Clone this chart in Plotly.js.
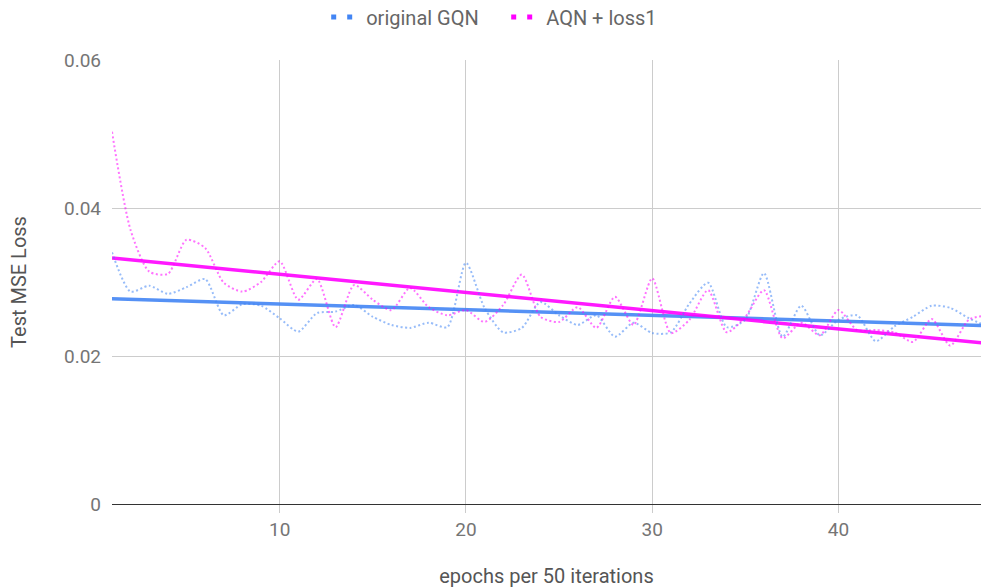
<!DOCTYPE html>
<html>
<head>
<meta charset="utf-8">
<script src="https://cdn.plot.ly/plotly-3.0.1.min.js"></script>
<style>html,body{margin:0;padding:0;background:#fff;}#chart{width:981px;height:588px;}</style>
</head>
<body>
<div id="chart"></div>
<script>
const epochs = [];
for (let i = 1; i <= 48; i++) epochs.push(i);

const seriesNames = ["original GQN", "AQN + loss1"];

const originalGQN = [
  0.0340, 0.0287, 0.0295, 0.0284, 0.0293, 0.0304, 0.0255, 0.0270, 0.0268, 0.0251,
  0.0233, 0.0258, 0.0260, 0.0269, 0.0253, 0.0242, 0.0238, 0.0245, 0.0239, 0.0326,
  0.0265, 0.0232, 0.0238, 0.0273, 0.0255, 0.0242, 0.0255, 0.0226, 0.0245, 0.0231,
  0.0232, 0.0271, 0.0299, 0.0239, 0.0249, 0.0312, 0.0226, 0.0268, 0.0228, 0.0249,
  0.0255, 0.0220, 0.0240, 0.0253, 0.0268, 0.0265, 0.0251, 0.0240
];

const aqnLoss1 = [
  0.0503, 0.0370, 0.0314, 0.0311, 0.0357, 0.0346, 0.0299, 0.0287, 0.0300, 0.0328,
  0.0276, 0.0304, 0.0239, 0.0296, 0.0276, 0.0262, 0.0292, 0.0266, 0.0255, 0.0262,
  0.0246, 0.0269, 0.0310, 0.0253, 0.0246, 0.0266, 0.0238, 0.0280, 0.0242, 0.0305,
  0.0231, 0.0249, 0.0289, 0.0232, 0.0253, 0.0289, 0.0224, 0.0245, 0.0228, 0.0262,
  0.0235, 0.0235, 0.0232, 0.0219, 0.0250, 0.0214, 0.0249, 0.0255
];

const xTicks = [10, 20, 30, 40];
const yTicks = [0, 0.02, 0.04, 0.06];
const yTickText = ["0", "0.02", "0.04", "0.06"];

const colors = ["#4285f4", "#ff00ff"];

function linfit(xs, ys) {
  const n = xs.length;
  let sx = 0, sy = 0, sxx = 0, sxy = 0;
  for (let i = 0; i < n; i++) { sx += xs[i]; sy += ys[i]; sxx += xs[i]*xs[i]; sxy += xs[i]*ys[i]; }
  const m = (n*sxy - sx*sy) / (n*sxx - sx*sx);
  const b = (sy - m*sx) / n;
  return xs.map(x => m*x + b);
}

const allSeries = [originalGQN, aqnLoss1];
const traces = [];
allSeries.forEach((ys, k) => {
  traces.push({
    x: epochs, y: linfit(epochs, ys), mode: 'lines', showlegend: false, hoverinfo: 'skip',
    line: {color: colors[k], width: 3.5}, opacity: 0.9
  });
});
allSeries.forEach((ys, k) => {
  traces.push({
    x: epochs, y: ys, mode: 'lines', showlegend: false,
    line: {color: colors[k], width: 2, dash: '2px,2.5px', shape: 'spline', smoothing: 0.7}, opacity: 0.55
  });
});
seriesNames.forEach((nm, k) => {
  traces.push({
    x: [null], y: [null], mode: 'lines', name: nm, showlegend: true,
    line: {color: colors[k], width: 5, dash: '5px,11px,5px,200px'}
  });
});

const layout = {
  width: 981, height: 588,
  margin: {l: 112, r: 0, t: 60, b: 84},
  paper_bgcolor: '#fff', plot_bgcolor: '#fff',
  font: {family: 'Roboto, sans-serif', size: 19, color: '#666'},
  showlegend: true,
  legend: {
    orientation: 'h', xref: 'container', yref: 'container',
    x: 0.516, xanchor: 'center', y: 0.971, yanchor: 'middle',
    font: {size: 20, color: '#666'}, itemwidth: 30, entrywidth: 135, entrywidthmode: 'pixels',
    traceorder: 'normal'
  },
  xaxis: {
    range: [1, 47.65], tickvals: xTicks, ticktext: xTicks.map(String),
    showgrid: true, gridcolor: '#cccccc', gridwidth: 1, zeroline: false,
    showline: false, ticks: 'outside', ticklen: 8, tickcolor: '#cccccc',
    tickfont: {size: 19, color: '#757575'},
    title: {text: 'epochs per 50 iterations', font: {size: 20, color: '#555'}, standoff: 29}
  },
  yaxis: {
    range: [0, 0.06], tickvals: yTicks, ticktext: yTickText,
    showgrid: true, gridcolor: '#cccccc', gridwidth: 1,
    zeroline: true, zerolinecolor: '#333', zerolinewidth: 1,
    showline: false, ticks: '', ticklabelstandoff: 10,
    tickfont: {size: 19, color: '#757575'},
    title: {text: 'Test MSE Loss', font: {size: 20, color: '#555'}, standoff: 31}
  }
};

Plotly.newPlot('chart', traces, layout, {displayModeBar: false, staticPlot: true});
</script>
</body>
</html>
